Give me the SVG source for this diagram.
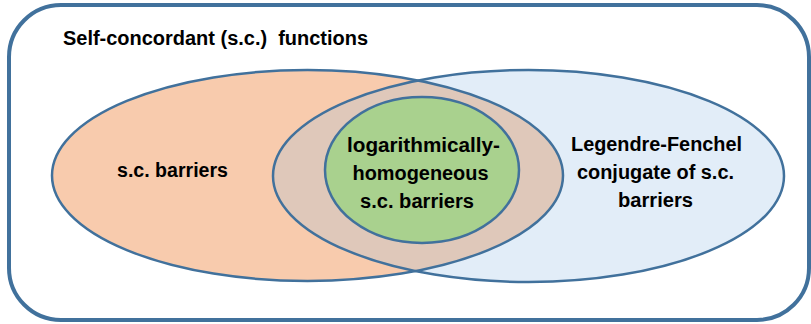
<svg xmlns="http://www.w3.org/2000/svg" width="811" height="324" viewBox="0 0 811 324">
<style>
.lbl{font-family:"Liberation Sans",Arial,sans-serif;font-weight:bold;font-size:20px;fill:#000}
.edge{fill:none;stroke:#41719C;stroke-width:2.5}
</style>
<defs>
<clipPath id="clipRight"><ellipse cx="528.5" cy="176" rx="255.5" ry="106"/></clipPath>
</defs>
<rect width="811" height="324" fill="#fff"/>
<g id="outer">
<rect x="9" y="5" width="800" height="315" rx="52" ry="52" fill="#fff" stroke="#41719C" stroke-width="4"/>
<text class="lbl" x="63" y="45" textLength="305" lengthAdjust="spacingAndGlyphs" xml:space="preserve" style="white-space:pre">Self-concordant (s.c.)  functions</text>
</g>
<g id="barriers">
<ellipse cx="307.5" cy="175.5" rx="255.5" ry="105.5" fill="#F8CBAD"/>
</g>
<g id="conjugate">
<ellipse cx="528.5" cy="176" rx="255.5" ry="106" fill="#E2EDF8"/>
</g>
<g id="overlap">
<ellipse cx="307.5" cy="175.5" rx="255.5" ry="105.5" fill="#DFC8BA" clip-path="url(#clipRight)"/>
</g>
<g id="outlines">
<ellipse class="edge" cx="307.5" cy="175.5" rx="255.5" ry="105.5"/>
<ellipse class="edge" cx="528.5" cy="176" rx="255.5" ry="106"/>
</g>
<g id="loghom">
<ellipse cx="422" cy="170" rx="97" ry="73" fill="#A9D18E" stroke="#41719C" stroke-width="2.5"/>
</g>
<g id="labels">
<text class="lbl" x="172.5" y="177" text-anchor="middle" textLength="111" lengthAdjust="spacingAndGlyphs">s.c. barriers</text>
<text class="lbl" x="423.5" y="152" text-anchor="middle" textLength="153" lengthAdjust="spacingAndGlyphs">logarithmically-</text>
<text class="lbl" x="420.5" y="180" text-anchor="middle" textLength="136" lengthAdjust="spacingAndGlyphs">homogeneous</text>
<text class="lbl" x="417" y="208" text-anchor="middle" textLength="114" lengthAdjust="spacingAndGlyphs">s.c. barriers</text>
<text class="lbl" x="656.5" y="151" text-anchor="middle" textLength="171" lengthAdjust="spacingAndGlyphs">Legendre-Fenchel</text>
<text class="lbl" x="655.5" y="179" text-anchor="middle" textLength="157" lengthAdjust="spacingAndGlyphs">conjugate of s.c.</text>
<text class="lbl" x="655.5" y="207" text-anchor="middle" textLength="75" lengthAdjust="spacingAndGlyphs">barriers</text>
</g>
</svg>
